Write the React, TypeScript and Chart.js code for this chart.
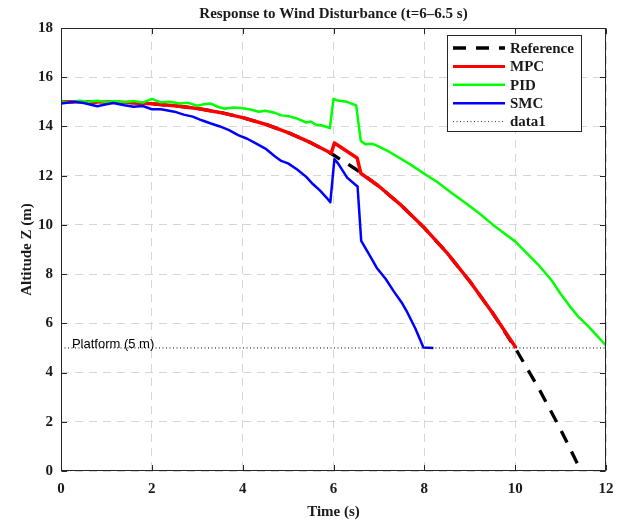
import React, { useEffect, useRef } from 'react';
import { Chart, registerables } from 'chart.js';

Chart.register(...registerables);

const TITLE = 'Response to Wind Disturbance (t=6–6.5 s)';
const X_LABEL = 'Time (s)';
const Y_LABEL = 'Altitude Z (m)';
const PLATFORM_Z = 5;
const PLATFORM_LABEL = 'Platform (5 m)';
const LEGEND_LABELS = ['Reference', 'MPC', 'PID', 'SMC', 'data1'];

const REF_T = [0, 0.5, 1, 1.5, 2, 2.5, 3, 3.5, 4, 4.5, 5, 5.5, 6, 6.5, 7, 7.5, 8, 8.5, 9, 9.5, 10, 10.5, 11, 11.45];
const REF_Z = [15, 15.0, 14.99, 14.97, 14.92, 14.84, 14.73, 14.57, 14.36, 14.09, 13.75, 13.34, 12.84, 12.25, 11.57, 10.78, 9.88, 8.86, 7.71, 6.43, 5.0, 3.42, 1.69, 0.0];

const MPC_T = [0, 0.5, 1, 1.5, 2, 2.5, 3, 3.5, 4, 4.5, 5, 5.5, 5.95, 6.02, 6.52, 6.6, 7, 7.5, 8, 8.5, 9, 9.5, 10.02];
const MPC_Z = [15, 15.0, 14.99, 14.97, 14.92, 14.84, 14.73, 14.57, 14.36, 14.09, 13.75, 13.34, 12.91, 13.33, 12.72, 12.1, 11.57, 10.78, 9.88, 8.86, 7.71, 6.43, 5.0];

const PID_T = [0, 0.2, 0.4, 0.6, 0.8, 1.0, 1.2, 1.4, 1.6, 1.8, 2.0, 2.2, 2.4, 2.6, 2.8, 3.0, 3.15, 3.3, 3.45, 3.6, 3.8, 4.0, 4.2, 4.35, 4.5, 4.7, 4.85, 5.0, 5.2, 5.4, 5.5, 5.6, 5.75, 5.92, 6.0, 6.1, 6.3, 6.5, 6.6, 6.7, 6.85, 7.0, 7.2, 7.4, 7.7, 8.0, 8.3, 8.6, 8.9, 9.2, 9.5, 9.8, 10.0, 10.2, 10.5, 10.8, 11.0, 11.2, 11.4, 11.6, 11.8, 12.0];
const PID_Z = [15.0, 14.98, 15.04, 15.0, 15.04, 14.99, 15.03, 14.98, 15.03, 14.97, 15.12, 14.98, 15.0, 14.93, 14.96, 14.84, 14.9, 14.93, 14.8, 14.72, 14.77, 14.74, 14.68, 14.6, 14.64, 14.56, 14.45, 14.42, 14.32, 14.16, 14.2, 14.08, 14.04, 13.93, 15.12, 15.05, 15.0, 14.85, 13.42, 13.28, 13.3, 13.18, 13.0, 12.78, 12.45, 12.08, 11.72, 11.3, 10.9, 10.48, 10.02, 9.6, 9.33, 8.95, 8.4, 7.75, 7.2, 6.7, 6.25, 5.9, 5.5, 5.1];

const SMC_T = [0, 0.3, 0.5, 0.8, 1.0, 1.15, 1.4, 1.6, 1.8, 2.0, 2.2, 2.5, 2.7, 2.9, 3.1, 3.3, 3.5, 3.7, 3.9, 4.1, 4.3, 4.5, 4.7, 4.85, 5.0, 5.2, 5.4, 5.55, 5.7, 5.85, 5.93, 6.02, 6.1, 6.3, 6.47, 6.53, 6.61, 6.8, 6.95, 7.15, 7.32, 7.5, 7.61, 7.8, 7.98, 8.2];
const SMC_Z = [14.93, 15.0, 14.95, 14.82, 14.9, 14.95, 14.86, 14.8, 14.83, 14.7, 14.7, 14.6, 14.48, 14.4, 14.25, 14.12, 14.0, 13.85, 13.65, 13.5, 13.3, 13.1, 12.8, 12.6, 12.5, 12.25, 11.95, 11.65, 11.4, 11.1, 10.92, 12.67, 12.5, 11.92, 11.65, 11.56, 9.35, 8.75, 8.26, 7.8, 7.32, 6.85, 6.5, 5.8, 5.02, 5.0];

const PLAT_T = [0, 12];
const PLAT_Z = [PLATFORM_Z, PLATFORM_Z];

const X_MIN = 0, X_MAX = 12, X_STEP = 2;
const Y_MIN = 0, Y_MAX = 18, Y_STEP = 2;

const pts = (t: number[], z: number[]) => t.map((v, i) => ({ x: v, y: z[i] }));

const SERIF = '"Liberation Serif", "Times New Roman", serif';
const SANS = '"Liberation Sans", Arial, sans-serif';
const INK = '#1a1a1a';

const overlay = {
  id: 'overlay',
  afterDraw(chart: any) {
    const { ctx, chartArea: a, scales } = chart;
    const xs = scales.x, ys = scales.y;
    ctx.save();
    ctx.setLineDash([]);
    // platform label
    ctx.fillStyle = '#000';
    ctx.font = `13px ${SANS}`;
    ctx.textAlign = 'left';
    ctx.textBaseline = 'alphabetic';
    ctx.fillText(PLATFORM_LABEL, xs.getPixelForValue(0.24), ys.getPixelForValue(PLATFORM_Z) + 0.5);

    // axes box
    const L = Math.round(a.left) + 0.5, R = Math.round(a.right) - 0.5;
    const T = Math.round(a.top) + 0.5, B = Math.round(a.bottom) - 0.5;
    ctx.strokeStyle = '#262626';
    ctx.lineWidth = 1;
    ctx.strokeRect(L, T, R - L, B - T);
    // inside ticks
    const tl = 5.5;
    ctx.beginPath();
    for (let v = X_MIN; v <= X_MAX; v += X_STEP) {
      const px = Math.round(xs.getPixelForValue(v)) + 0.5;
      ctx.moveTo(px, B); ctx.lineTo(px, B - tl);
      ctx.moveTo(px, T); ctx.lineTo(px, T + tl);
    }
    for (let v = Y_MIN; v <= Y_MAX; v += Y_STEP) {
      const py = Math.round(ys.getPixelForValue(v)) + 0.5;
      ctx.moveTo(L, py); ctx.lineTo(L + tl, py);
      ctx.moveTo(R, py); ctx.lineTo(R - tl, py);
    }
    ctx.stroke();

    // titles
    ctx.fillStyle = INK;
    ctx.font = `bold 15px ${SERIF}`;
    ctx.textAlign = 'center';
    ctx.textBaseline = 'middle';
    const cx = (a.left + a.right) / 2;
    ctx.fillText(TITLE, cx, 14);
    ctx.fillText(X_LABEL, cx, 512);
    ctx.save();
    ctx.translate(27, (a.top + a.bottom) / 2);
    ctx.rotate(-Math.PI / 2);
    ctx.fillText(Y_LABEL, 0, 0);
    ctx.restore();

    // legend
    const lx = 447.5, ly = 35.5, lw = 134, lh = 96;
    ctx.fillStyle = '#fff';
    ctx.fillRect(lx, ly, lw, lh);
    ctx.strokeStyle = '#262626';
    ctx.lineWidth = 1;
    ctx.strokeRect(lx, ly, lw, lh);
    const styles = [
      { c: '#000', w: 3.5, d: [13, 10] },
      { c: '#ff0000', w: 3, d: [] },
      { c: '#00ff00', w: 2.5, d: [] },
      { c: '#0000ff', w: 2.5, d: [] },
      { c: '#333', w: 1, d: [1, 2.5] },
    ];
    ctx.font = `bold 15px ${SERIF}`;
    ctx.textAlign = 'left';
    LEGEND_LABELS.forEach((lab, i) => {
      const yy = 48 + i * 18.4;
      const s = styles[i];
      ctx.beginPath();
      ctx.strokeStyle = s.c;
      ctx.lineWidth = s.w;
      ctx.setLineDash(s.d);
      ctx.moveTo(453, yy);
      ctx.lineTo(505, yy);
      ctx.stroke();
      ctx.setLineDash([]);
      ctx.fillStyle = INK;
      ctx.fillText(lab, 510, yy + 1);
    });
    ctx.restore();
  },
};

export default function App() {
  const ref = useRef<HTMLCanvasElement | null>(null);
  useEffect(() => {
    if (!ref.current) return;
    const chart = new Chart(ref.current, {
      type: 'line',
      data: {
        datasets: [
          { label: LEGEND_LABELS[0], data: pts(REF_T, REF_Z), borderColor: '#000', borderWidth: 3.3, borderDash: [13, 10], order: 5 } as any,
          { label: LEGEND_LABELS[1], data: pts(MPC_T, MPC_Z), borderColor: '#ff0000', borderWidth: 3.5, order: 4 },
          { label: LEGEND_LABELS[2], data: pts(PID_T, PID_Z), borderColor: '#00ff00', borderWidth: 2.5, order: 3 },
          { label: LEGEND_LABELS[3], data: pts(SMC_T, SMC_Z), borderColor: '#0000ff', borderWidth: 2.5, order: 2 },
          { label: LEGEND_LABELS[4], data: pts(PLAT_T, PLAT_Z), borderColor: '#000', borderWidth: 1, borderDash: [1, 2.5], order: 1 },
        ],
      },
      options: {
        responsive: false,
        animation: false,
        parsing: false as any,
        elements: { point: { radius: 0 }, line: { tension: 0, borderJoinStyle: 'round', fill: false } },
        layout: { padding: { left: 0, top: 28, right: 19, bottom: 0 } },
        plugins: { legend: { display: false }, title: { display: false }, tooltip: { enabled: false } },
        scales: {
          x: {
            type: 'linear', min: X_MIN, max: X_MAX,
            afterFit: (s: any) => { s.height = 51; },
            ticks: { stepSize: X_STEP, padding: 9, color: INK, font: { family: SERIF, size: 15, weight: 'bold' }, maxRotation: 0 },
            grid: { color: '#d6d6d6', lineWidth: 1, drawTicks: false },
            border: { display: false, dash: [8, 6] },
          },
          y: {
            type: 'linear', min: Y_MIN, max: Y_MAX,
            afterFit: (s: any) => { s.width = 61; },
            ticks: { stepSize: Y_STEP, padding: 8, color: INK, font: { family: SERIF, size: 15, weight: 'bold' } },
            grid: { color: '#d6d6d6', lineWidth: 1, drawTicks: false },
            border: { display: false, dash: [8, 6] },
          },
        },
      },
      plugins: [overlay],
    });
    return () => chart.destroy();
  }, []);
  return (
    <div style={{ position: 'fixed', left: 0, top: 0, width: 625, height: 522, background: '#fff' }}>
      <canvas ref={ref} width={625} height={522} />
    </div>
  );
}
